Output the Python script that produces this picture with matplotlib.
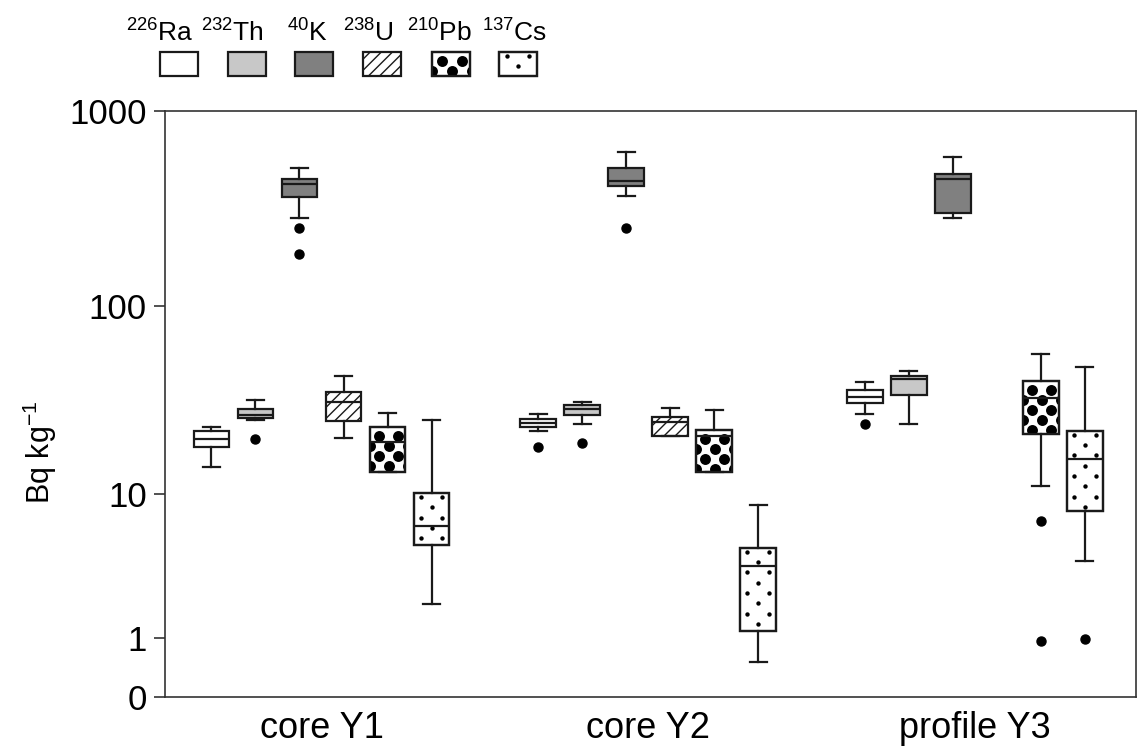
import numpy as np
import matplotlib
matplotlib.use("Agg")
import matplotlib.pyplot as plt
from matplotlib.patches import Rectangle, PathPatch
from matplotlib.ticker import FixedLocator, NullLocator

plt.rcParams["font.family"] = ["Liberation Sans", "DejaVu Sans"]
plt.rcParams["mathtext.fontset"] = "custom"
plt.rcParams["mathtext.rm"] = "Liberation Sans"
plt.rcParams["mathtext.it"] = "Liberation Sans"
plt.rcParams["mathtext.bf"] = "Liberation Sans:bold"
plt.rcParams["hatch.linewidth"] = 1.0

# ---- data (Bq/kg), rows = isotopes, columns = sites ----
sites = ["core Y1", "core Y2", "profile Y3"]
isotopes = [r"$^{226}$Ra", r"$^{232}$Th", r"$^{40}$K", r"$^{238}$U", r"$^{210}$Pb", r"$^{137}$Cs"]

whislo = [
    [14.0, 22.0, 27.2],
    [25.3, 24.1, 24.1],
    [282, 367, 282],
    [20.1, 20.8, np.nan],
    [13.2, 13.2, 11.0],
    [2.0, 0.51, 4.0],
]
q1 = [
    [18.0, 23.1, 31.0],
    [25.7, 26.9, 34.2],
    [362, 411, 299],
    [25.0, 20.8, np.nan],
    [13.2, 13.2, 21.2],
    [5.0, 1.19, 7.94],
]
med = [
    [20.0, 24.2, 33.5],
    [26.8, 28.8, 41.3],
    [424, 439, 445],
    [31.3, 24.7, np.nan],
    [19.2, 20.6, 33.1],
    [6.56, 3.71, 15.6],
]
q3 = [
    [22.1, 25.4, 36.3],
    [28.8, 30.3, 43.2],
    [447, 512, 474],
    [35.3, 26.05, np.nan],
    [23.2, 22.3, 40.5],
    [10.1, 4.82, 22.1],
]
whishi = [
    [23.1, 27.2, 40.2],
    [32.2, 31.3, 45.5],
    [508, 617, 581],
    [43.0, 29.3, np.nan],
    [27.5, 28.5, 56.0],
    [25.2, 8.65, 47.9],
]
fliers = [
    [[], [18.0], [24.1]],
    [[20.0], [18.9], []],
    [[250, 185], [250], []],
    [[], [], []],
    [[], [], [7.0, 0.93]],
    [[], [], [0.99]],
]

# ---- styles ----
fills = ["white", "#c8c8c8", "#808080", "white", "white", "white"]
hatches = [None, None, None, "///", None, None]
patterns = [None, None, None, None, "big", "small"]
ec = "#1a1a1a"
lw = 1.6

W, H = 1137, 753
fig = plt.figure(figsize=(W / 100, H / 100), dpi=100)
ax = fig.add_axes([165 / W, (H - 697.3) / H, (1136 - 165) / W, (697.3 - 110.8) / H])


def fwd(v):
    with np.errstate(invalid="ignore", divide="ignore"):
        return np.log10(np.asarray(v, dtype=float) + 1)


def inv(y):
    return 10 ** np.asarray(y, dtype=float) - 1


ax.set_yscale("function", functions=(fwd, inv))
ax.set_ylim(0, 1000)
ax.set_xlim(0.521, 3.493)

step = 0.1347
bw = 0.110


def dot_pattern(tax, patch, x0, x1, y0, y1, kind):
    (px0, py0), (px1, py1) = tax.transData.transform([(x0, y0), (x1, y1)])
    left, right = min(px0, px1), max(px0, px1)
    bottom, top = min(py0, py1), max(py0, py1)
    w = right - left
    if kind == "big":
        dy, first, size = 10.0, 9.0, 62
        cols = ([0.25, 0.78], [0.0, 0.53, 1.06])
    else:
        dy, first, size = 10.3, 4.0, 10
        cols = ([0.2, 0.8], [0.5])
    pts = []
    y = top - first
    k = 0
    while y > bottom - 6:
        for c in cols[k % 2]:
            pts.append((left + c * w, y))
        y -= dy
        k += 1
    d = tax.transData.inverted().transform(pts)
    sc = tax.scatter(d[:, 0], d[:, 1], s=size, color="black", linewidths=0,
                     zorder=patch.get_zorder() + 0.03)
    sc.set_clip_path(patch)
    tax.add_patch(PathPatch(patch.get_path(), transform=patch.get_transform(),
                            facecolor="none", edgecolor=ec, linewidth=lw,
                            zorder=patch.get_zorder() + 0.06))


for j in range(len(isotopes)):
    stats, pos = [], []
    for i in range(len(sites)):
        if np.isnan(med[j][i]):
            continue
        stats.append(dict(whislo=whislo[j][i], q1=q1[j][i], med=med[j][i],
                          q3=q3[j][i], whishi=whishi[j][i], fliers=fliers[j][i]))
        pos.append(i + 1 + (j - 2.5) * step)
    bp = ax.bxp(stats, positions=pos, widths=bw, capwidths=0.052, patch_artist=True,
                boxprops=dict(facecolor=fills[j], edgecolor=ec, linewidth=lw, hatch=hatches[j]),
                whiskerprops=dict(color=ec, linewidth=lw),
                capprops=dict(color=ec, linewidth=lw),
                medianprops=dict(color=ec, linewidth=lw),
                flierprops=dict(marker="o", markerfacecolor="black", markeredgecolor="black",
                                markersize=6.5),
                manage_ticks=False)
    if patterns[j]:
        for p, s, box in zip(pos, stats, bp["boxes"]):
            dot_pattern(ax, box, p - bw / 2, p + bw / 2, s["q1"], s["q3"], patterns[j])

ax.yaxis.set_major_locator(FixedLocator([0, 1, 10, 100, 1000]))
ax.yaxis.set_minor_locator(NullLocator())
ax.set_yticklabels(["0", "1", "10", "100", "1000"])
ax.set_xticks([1, 2, 3])
ax.set_xticklabels(sites)
ax.tick_params(axis="y", direction="out", length=8, width=1.2, pad=5,
               labelsize=25, color="#333333")
ax.tick_params(axis="x", length=0, pad=10, labelsize=26)
for sp in ax.spines.values():
    sp.set_linewidth(1.2)
    sp.set_color("#333333")

fig.text(40 / W, 1 - 452 / H, r"Bq kg$^{-1}$", rotation=90, ha="center", va="center",
         fontsize=22)

# ---- legend drawn in pixel coordinates ----
lax = fig.add_axes([0, 0, 1, 1])
lax.set_xlim(0, W)
lax.set_ylim(H, 0)
lax.axis("off")
sw_left = [160, 228, 295, 363, 432, 499]
lab_x = [160, 232, 307, 368, 439, 515]
for j in range(len(isotopes)):
    r = Rectangle((sw_left[j], 52), 38, 24, facecolor=fills[j], edgecolor=ec,
                  linewidth=lw, hatch=hatches[j], zorder=2)
    lax.add_patch(r)
    if patterns[j]:
        dot_pattern(lax, r, sw_left[j], sw_left[j] + 38, 76, 52, patterns[j])
    lax.text(lab_x[j], 42, isotopes[j], ha="center", va="baseline", fontsize=19)

fig.savefig("out.png", dpi=100, facecolor="white")
